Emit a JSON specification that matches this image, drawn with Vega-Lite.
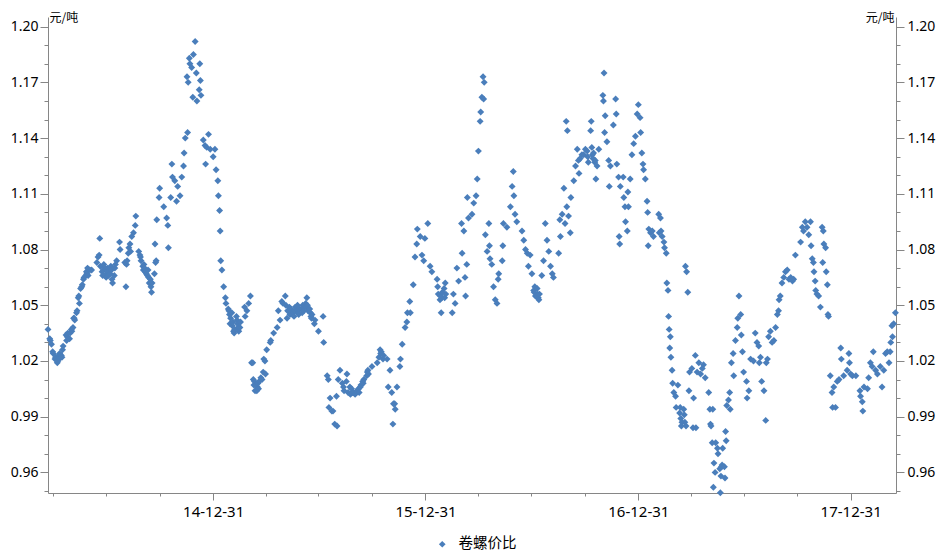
{
"$schema": "https://vega.github.io/schema/vega-lite/v6.json",
"width": 848, "height": 476,
"autosize": {"type": "none"},
"padding": {"left": 48, "top": 17, "right": 42, "bottom": 61},
"background": "white",
"config": {"view": {"stroke": null}, "font": "Noto Sans", "axis": {"grid": false, "domainColor": "#868686", "tickColor": "#868686", "labelColor": "#000000", "labelFont": "Noto Sans", "titleFont": "Noto Sans CJK SC"}},
"data": {"values": [
{"d":"2014-03-22","v":1.037},{"d":"2014-03-25","v":1.032},{"d":"2014-03-26","v":1.031},{"d":"2014-03-28","v":1.029},{"d":"2014-03-30","v":1.025},{"d":"2014-03-31","v":1.024},{"d":"2014-04-03","v":1.021},{"d":"2014-04-04","v":1.022},{"d":"2014-04-07","v":1.019},{"d":"2014-04-08","v":1.020},{"d":"2014-04-09","v":1.023},{"d":"2014-04-10","v":1.021},{"d":"2014-04-11","v":1.024},{"d":"2014-04-14","v":1.023},{"d":"2014-04-15","v":1.022},{"d":"2014-04-16","v":1.026},{"d":"2014-04-17","v":1.028},{"d":"2014-04-22","v":1.034},{"d":"2014-04-23","v":1.031},{"d":"2014-04-24","v":1.033},{"d":"2014-04-25","v":1.035},{"d":"2014-04-28","v":1.032},{"d":"2014-04-29","v":1.035},{"d":"2014-05-01","v":1.037},{"d":"2014-05-02","v":1.036},{"d":"2014-05-04","v":1.038},{"d":"2014-05-05","v":1.043},{"d":"2014-05-06","v":1.043},{"d":"2014-05-07","v":1.042},{"d":"2014-05-10","v":1.046},{"d":"2014-05-11","v":1.047},{"d":"2014-05-13","v":1.054},{"d":"2014-05-14","v":1.055},{"d":"2014-05-15","v":1.051},{"d":"2014-05-17","v":1.059},{"d":"2014-05-19","v":1.060},{"d":"2014-05-20","v":1.061},{"d":"2014-05-22","v":1.064},{"d":"2014-05-23","v":1.065},{"d":"2014-05-26","v":1.066},{"d":"2014-05-27","v":1.068},{"d":"2014-05-28","v":1.067},{"d":"2014-05-29","v":1.070},{"d":"2014-05-30","v":1.066},{"d":"2014-06-02","v":1.069},{"d":"2014-06-05","v":1.069},{"d":"2014-06-14","v":1.073},{"d":"2014-06-16","v":1.076},{"d":"2014-06-18","v":1.077},{"d":"2014-06-19","v":1.086},{"d":"2014-06-20","v":1.071},{"d":"2014-06-23","v":1.068},{"d":"2014-06-24","v":1.066},{"d":"2014-06-25","v":1.069},{"d":"2014-06-26","v":1.072},{"d":"2014-06-27","v":1.070},{"d":"2014-06-30","v":1.065},{"d":"2014-07-01","v":1.067},{"d":"2014-07-02","v":1.070},{"d":"2014-07-03","v":1.068},{"d":"2014-07-04","v":1.066},{"d":"2014-07-07","v":1.067},{"d":"2014-07-08","v":1.071},{"d":"2014-07-09","v":1.069},{"d":"2014-07-10","v":1.064},{"d":"2014-07-11","v":1.062},{"d":"2014-07-14","v":1.066},{"d":"2014-07-15","v":1.070},{"d":"2014-07-16","v":1.072},{"d":"2014-07-18","v":1.074},{"d":"2014-07-23","v":1.084},{"d":"2014-07-24","v":1.080},{"d":"2014-08-01","v":1.073},{"d":"2014-08-03","v":1.060},{"d":"2014-08-04","v":1.072},{"d":"2014-08-05","v":1.074},{"d":"2014-08-07","v":1.078},{"d":"2014-08-08","v":1.081},{"d":"2014-08-10","v":1.083},{"d":"2014-08-11","v":1.079},{"d":"2014-08-13","v":1.087},{"d":"2014-08-16","v":1.089},{"d":"2014-08-19","v":1.093},{"d":"2014-08-20","v":1.098},{"d":"2014-08-25","v":1.079},{"d":"2014-08-27","v":1.077},{"d":"2014-08-28","v":1.076},{"d":"2014-08-29","v":1.074},{"d":"2014-09-01","v":1.071},{"d":"2014-09-02","v":1.069},{"d":"2014-09-03","v":1.072},{"d":"2014-09-04","v":1.070},{"d":"2014-09-05","v":1.068},{"d":"2014-09-07","v":1.067},{"d":"2014-09-09","v":1.066},{"d":"2014-09-10","v":1.069},{"d":"2014-09-11","v":1.065},{"d":"2014-09-12","v":1.062},{"d":"2014-09-14","v":1.064},{"d":"2014-09-15","v":1.060},{"d":"2014-09-16","v":1.057},{"d":"2014-09-17","v":1.062},{"d":"2014-09-21","v":1.067},{"d":"2014-09-22","v":1.083},{"d":"2014-09-23","v":1.073},{"d":"2014-09-24","v":1.074},{"d":"2014-09-25","v":1.096},{"d":"2014-09-29","v":1.108},{"d":"2014-09-30","v":1.113},{"d":"2014-10-07","v":1.103},{"d":"2014-10-12","v":1.097},{"d":"2014-10-14","v":1.093},{"d":"2014-10-15","v":1.081},{"d":"2014-10-19","v":1.108},{"d":"2014-10-21","v":1.126},{"d":"2014-10-22","v":1.119},{"d":"2014-10-26","v":1.117},{"d":"2014-10-29","v":1.106},{"d":"2014-10-31","v":1.114},{"d":"2014-11-04","v":1.109},{"d":"2014-11-07","v":1.119},{"d":"2014-11-10","v":1.125},{"d":"2014-11-11","v":1.132},{"d":"2014-11-13","v":1.140},{"d":"2014-11-16","v":1.173},{"d":"2014-11-17","v":1.143},{"d":"2014-11-18","v":1.170},{"d":"2014-11-20","v":1.183},{"d":"2014-11-21","v":1.180},{"d":"2014-11-24","v":1.178},{"d":"2014-11-26","v":1.162},{"d":"2014-11-27","v":1.185},{"d":"2014-11-30","v":1.192},{"d":"2014-12-02","v":1.175},{"d":"2014-12-03","v":1.160},{"d":"2014-12-07","v":1.166},{"d":"2014-12-08","v":1.180},{"d":"2014-12-09","v":1.171},{"d":"2014-12-10","v":1.163},{"d":"2014-12-14","v":1.139},{"d":"2014-12-17","v":1.136},{"d":"2014-12-18","v":1.126},{"d":"2014-12-20","v":1.135},{"d":"2014-12-23","v":1.142},{"d":"2014-12-26","v":1.134},{"d":"2014-12-31","v":1.130},
{"d":"2015-01-03","v":1.134},{"d":"2015-01-05","v":1.123},{"d":"2015-01-08","v":1.117},{"d":"2015-01-09","v":1.109},{"d":"2015-01-11","v":1.101},{"d":"2015-01-12","v":1.090},{"d":"2015-01-13","v":1.074},{"d":"2015-01-15","v":1.069},{"d":"2015-01-18","v":1.060},{"d":"2015-01-21","v":1.054},{"d":"2015-01-22","v":1.051},{"d":"2015-01-26","v":1.048},{"d":"2015-01-27","v":1.047},{"d":"2015-01-28","v":1.045},{"d":"2015-01-29","v":1.040},{"d":"2015-01-30","v":1.043},{"d":"2015-02-01","v":1.046},{"d":"2015-02-02","v":1.039},{"d":"2015-02-03","v":1.041},{"d":"2015-02-04","v":1.036},{"d":"2015-02-05","v":1.035},{"d":"2015-02-06","v":1.037},{"d":"2015-02-09","v":1.044},{"d":"2015-02-10","v":1.042},{"d":"2015-02-11","v":1.040},{"d":"2015-02-12","v":1.038},{"d":"2015-02-13","v":1.036},{"d":"2015-02-15","v":1.038},{"d":"2015-02-16","v":1.041},{"d":"2015-02-23","v":1.049},{"d":"2015-02-24","v":1.044},{"d":"2015-02-27","v":1.047},{"d":"2015-03-02","v":1.051},{"d":"2015-03-05","v":1.055},{"d":"2015-03-07","v":1.019},{"d":"2015-03-09","v":1.019},{"d":"2015-03-10","v":1.010},{"d":"2015-03-11","v":1.007},{"d":"2015-03-12","v":1.009},{"d":"2015-03-13","v":1.004},{"d":"2015-03-16","v":1.004},{"d":"2015-03-17","v":1.006},{"d":"2015-03-18","v":1.008},{"d":"2015-03-19","v":1.005},{"d":"2015-03-20","v":1.009},{"d":"2015-03-23","v":1.011},{"d":"2015-03-25","v":1.010},{"d":"2015-03-27","v":1.014},{"d":"2015-03-28","v":1.021},{"d":"2015-03-30","v":1.020},{"d":"2015-03-31","v":1.013},{"d":"2015-04-02","v":1.026},{"d":"2015-04-08","v":1.030},{"d":"2015-04-09","v":1.031},{"d":"2015-04-14","v":1.035},{"d":"2015-04-20","v":1.038},{"d":"2015-04-22","v":1.047},{"d":"2015-04-25","v":1.042},{"d":"2015-04-28","v":1.052},{"d":"2015-04-30","v":1.051},{"d":"2015-05-04","v":1.055},{"d":"2015-05-05","v":1.050},{"d":"2015-05-07","v":1.043},{"d":"2015-05-08","v":1.047},{"d":"2015-05-11","v":1.049},{"d":"2015-05-12","v":1.045},{"d":"2015-05-13","v":1.048},{"d":"2015-05-15","v":1.046},{"d":"2015-05-18","v":1.046},{"d":"2015-05-19","v":1.044},{"d":"2015-05-20","v":1.047},{"d":"2015-05-21","v":1.049},{"d":"2015-05-24","v":1.048},{"d":"2015-05-25","v":1.050},{"d":"2015-05-26","v":1.046},{"d":"2015-05-27","v":1.045},{"d":"2015-05-28","v":1.048},{"d":"2015-06-01","v":1.048},{"d":"2015-06-02","v":1.046},{"d":"2015-06-03","v":1.050},{"d":"2015-06-04","v":1.049},{"d":"2015-06-05","v":1.047},{"d":"2015-06-08","v":1.051},{"d":"2015-06-09","v":1.049},{"d":"2015-06-10","v":1.054},{"d":"2015-06-11","v":1.050},{"d":"2015-06-12","v":1.047},{"d":"2015-06-15","v":1.048},{"d":"2015-06-16","v":1.046},{"d":"2015-06-17","v":1.044},{"d":"2015-06-18","v":1.043},{"d":"2015-06-19","v":1.045},{"d":"2015-06-23","v":1.040},{"d":"2015-06-24","v":1.042},{"d":"2015-06-30","v":1.036},{"d":"2015-07-08","v":1.044},{"d":"2015-07-09","v":1.030},{"d":"2015-07-15","v":1.012},{"d":"2015-07-17","v":1.010},{"d":"2015-07-18","v":0.995},{"d":"2015-07-20","v":1.000},{"d":"2015-07-23","v":0.993},{"d":"2015-07-25","v":0.993},{"d":"2015-07-28","v":0.986},{"d":"2015-07-31","v":1.001},{"d":"2015-08-01","v":0.985},{"d":"2015-08-03","v":1.010},{"d":"2015-08-06","v":1.015},{"d":"2015-08-10","v":1.008},{"d":"2015-08-12","v":1.006},{"d":"2015-08-13","v":1.004},{"d":"2015-08-17","v":1.009},{"d":"2015-08-18","v":1.013},{"d":"2015-08-20","v":1.003},{"d":"2015-08-23","v":1.006},{"d":"2015-08-24","v":1.002},{"d":"2015-08-26","v":1.005},{"d":"2015-08-27","v":1.003},{"d":"2015-08-29","v":1.003},{"d":"2015-09-01","v":1.002},{"d":"2015-09-04","v":1.004},{"d":"2015-09-07","v":1.005},{"d":"2015-09-08","v":1.003},{"d":"2015-09-10","v":1.006},{"d":"2015-09-11","v":1.007},{"d":"2015-09-14","v":1.009},{"d":"2015-09-15","v":1.008},{"d":"2015-09-16","v":1.010},{"d":"2015-09-21","v":1.012},{"d":"2015-09-22","v":1.014},{"d":"2015-09-23","v":1.015},{"d":"2015-09-24","v":1.013},{"d":"2015-09-30","v":1.017},{"d":"2015-10-09","v":1.019},{"d":"2015-10-12","v":1.022},{"d":"2015-10-14","v":1.026},{"d":"2015-10-15","v":1.024},{"d":"2015-10-16","v":1.025},{"d":"2015-10-19","v":1.021},{"d":"2015-10-20","v":1.023},{"d":"2015-10-26","v":1.021},{"d":"2015-10-28","v":1.006},{"d":"2015-10-31","v":1.015},{"d":"2015-11-03","v":1.003},{"d":"2015-11-05","v":0.986},{"d":"2015-11-06","v":0.997},{"d":"2015-11-08","v":0.997},{"d":"2015-11-09","v":0.994},{"d":"2015-11-12","v":1.006},{"d":"2015-11-17","v":1.017},{"d":"2015-11-18","v":1.021},{"d":"2015-11-21","v":1.029},{"d":"2015-11-26","v":1.038},{"d":"2015-11-29","v":1.041},{"d":"2015-11-30","v":1.046},{"d":"2015-12-04","v":1.052},{"d":"2015-12-05","v":1.046},{"d":"2015-12-10","v":1.061},{"d":"2015-12-13","v":1.076},{"d":"2015-12-16","v":1.083},{"d":"2015-12-17","v":1.091},{"d":"2015-12-22","v":1.087},{"d":"2015-12-25","v":1.077},{"d":"2015-12-28","v":1.074},{"d":"2015-12-30","v":1.086},
{"d":"2016-01-04","v":1.094},{"d":"2016-01-08","v":1.071},{"d":"2016-01-11","v":1.068},{"d":"2016-01-20","v":1.064},{"d":"2016-01-21","v":1.060},{"d":"2016-01-22","v":1.056},{"d":"2016-01-25","v":1.053},{"d":"2016-01-26","v":1.055},{"d":"2016-01-27","v":1.046},{"d":"2016-01-28","v":1.054},{"d":"2016-01-29","v":1.057},{"d":"2016-02-01","v":1.059},{"d":"2016-02-02","v":1.054},{"d":"2016-02-03","v":1.062},{"d":"2016-02-04","v":1.056},{"d":"2016-02-15","v":1.046},{"d":"2016-02-17","v":1.056},{"d":"2016-02-20","v":1.051},{"d":"2016-02-23","v":1.070},{"d":"2016-02-26","v":1.063},{"d":"2016-03-02","v":1.094},{"d":"2016-03-03","v":1.078},{"d":"2016-03-06","v":1.090},{"d":"2016-03-08","v":1.065},{"d":"2016-03-09","v":1.055},{"d":"2016-03-11","v":1.072},{"d":"2016-03-12","v":1.108},{"d":"2016-03-14","v":1.097},{"d":"2016-03-20","v":1.099},{"d":"2016-03-23","v":1.105},{"d":"2016-03-27","v":1.109},{"d":"2016-03-29","v":1.118},{"d":"2016-03-31","v":1.133},{"d":"2016-04-03","v":1.149},{"d":"2016-04-04","v":1.154},{"d":"2016-04-06","v":1.162},{"d":"2016-04-08","v":1.173},{"d":"2016-04-09","v":1.161},{"d":"2016-04-10","v":1.170},{"d":"2016-04-12","v":1.088},{"d":"2016-04-15","v":1.079},{"d":"2016-04-18","v":1.094},{"d":"2016-04-19","v":1.082},{"d":"2016-04-20","v":1.075},{"d":"2016-04-23","v":1.072},{"d":"2016-04-26","v":1.060},{"d":"2016-04-29","v":1.053},{"d":"2016-05-02","v":1.051},{"d":"2016-05-04","v":1.064},{"d":"2016-05-05","v":1.067},{"d":"2016-05-11","v":1.074},{"d":"2016-05-12","v":1.082},{"d":"2016-05-13","v":1.094},{"d":"2016-05-19","v":1.092},{"d":"2016-05-25","v":1.103},{"d":"2016-05-28","v":1.114},{"d":"2016-05-30","v":1.122},{"d":"2016-05-31","v":1.109},{"d":"2016-06-02","v":1.099},{"d":"2016-06-05","v":1.095},{"d":"2016-06-14","v":1.090},{"d":"2016-06-17","v":1.085},{"d":"2016-06-20","v":1.080},{"d":"2016-06-23","v":1.078},{"d":"2016-06-25","v":1.071},{"d":"2016-06-28","v":1.077},{"d":"2016-07-01","v":1.067},{"d":"2016-07-04","v":1.058},{"d":"2016-07-05","v":1.057},{"d":"2016-07-06","v":1.060},{"d":"2016-07-07","v":1.055},{"d":"2016-07-10","v":1.059},{"d":"2016-07-11","v":1.056},{"d":"2016-07-12","v":1.054},{"d":"2016-07-13","v":1.053},{"d":"2016-07-14","v":1.056},{"d":"2016-07-18","v":1.066},{"d":"2016-07-21","v":1.074},{"d":"2016-07-24","v":1.094},{"d":"2016-07-27","v":1.085},{"d":"2016-07-30","v":1.079},{"d":"2016-08-02","v":1.071},{"d":"2016-08-05","v":1.067},{"d":"2016-08-07","v":1.065},{"d":"2016-08-16","v":1.078},{"d":"2016-08-18","v":1.096},{"d":"2016-08-19","v":1.087},{"d":"2016-08-22","v":1.099},{"d":"2016-08-25","v":1.113},{"d":"2016-08-27","v":1.094},{"d":"2016-08-29","v":1.149},{"d":"2016-08-30","v":1.103},{"d":"2016-08-31","v":1.144},{"d":"2016-09-02","v":1.098},{"d":"2016-09-05","v":1.089},{"d":"2016-09-06","v":1.108},{"d":"2016-09-11","v":1.117},{"d":"2016-09-14","v":1.125},{"d":"2016-09-17","v":1.134},{"d":"2016-09-19","v":1.128},{"d":"2016-09-20","v":1.121},{"d":"2016-09-22","v":1.129},{"d":"2016-09-25","v":1.131},{"d":"2016-09-28","v":1.131},{"d":"2016-10-01","v":1.134},{"d":"2016-10-04","v":1.133},{"d":"2016-10-05","v":1.130},{"d":"2016-10-06","v":1.127},{"d":"2016-10-10","v":1.144},{"d":"2016-10-11","v":1.149},{"d":"2016-10-12","v":1.135},{"d":"2016-10-13","v":1.131},{"d":"2016-10-14","v":1.129},{"d":"2016-10-15","v":1.132},{"d":"2016-10-17","v":1.127},{"d":"2016-10-18","v":1.128},{"d":"2016-10-19","v":1.118},{"d":"2016-10-21","v":1.125},{"d":"2016-10-24","v":1.134},{"d":"2016-10-31","v":1.163},{"d":"2016-11-01","v":1.160},{"d":"2016-11-02","v":1.175},{"d":"2016-11-03","v":1.143},{"d":"2016-11-04","v":1.152},{"d":"2016-11-07","v":1.138},{"d":"2016-11-10","v":1.128},{"d":"2016-11-11","v":1.114},{"d":"2016-11-13","v":1.125},{"d":"2016-11-18","v":1.147},{"d":"2016-11-22","v":1.161},{"d":"2016-11-23","v":1.153},{"d":"2016-11-24","v":1.126},{"d":"2016-11-27","v":1.119},{"d":"2016-11-28","v":1.087},{"d":"2016-11-29","v":1.083},{"d":"2016-11-30","v":1.114},{"d":"2016-12-05","v":1.119},{"d":"2016-12-06","v":1.108},{"d":"2016-12-08","v":1.103},{"d":"2016-12-09","v":1.095},{"d":"2016-12-12","v":1.090},{"d":"2016-12-13","v":1.111},{"d":"2016-12-14","v":1.103},{"d":"2016-12-17","v":1.118},{"d":"2016-12-20","v":1.131},{"d":"2016-12-23","v":1.137},{"d":"2016-12-26","v":1.141},{"d":"2016-12-29","v":1.153},{"d":"2016-12-31","v":1.158},
{"d":"2017-01-03","v":1.151},{"d":"2017-01-04","v":1.143},{"d":"2017-01-06","v":1.132},{"d":"2017-01-08","v":1.126},{"d":"2017-01-09","v":1.123},{"d":"2017-01-12","v":1.118},{"d":"2017-01-15","v":1.106},{"d":"2017-01-16","v":1.100},{"d":"2017-01-17","v":1.082},{"d":"2017-01-18","v":1.091},{"d":"2017-01-21","v":1.089},{"d":"2017-01-24","v":1.090},{"d":"2017-01-26","v":1.087},{"d":"2017-02-04","v":1.099},{"d":"2017-02-05","v":1.089},{"d":"2017-02-07","v":1.097},{"d":"2017-02-08","v":1.090},{"d":"2017-02-10","v":1.087},{"d":"2017-02-13","v":1.084},{"d":"2017-02-14","v":1.081},{"d":"2017-02-17","v":1.078},{"d":"2017-02-18","v":1.062},{"d":"2017-02-20","v":1.058},{"d":"2017-02-21","v":1.044},{"d":"2017-02-22","v":1.037},{"d":"2017-02-23","v":1.027},{"d":"2017-02-24","v":1.033},{"d":"2017-02-25","v":1.022},{"d":"2017-02-27","v":1.015},{"d":"2017-02-28","v":1.008},{"d":"2017-03-02","v":1.003},{"d":"2017-03-05","v":1.001},{"d":"2017-03-06","v":0.995},{"d":"2017-03-09","v":1.007},{"d":"2017-03-12","v":0.992},{"d":"2017-03-13","v":0.995},{"d":"2017-03-14","v":0.989},{"d":"2017-03-15","v":0.985},{"d":"2017-03-16","v":0.987},{"d":"2017-03-19","v":0.994},{"d":"2017-03-20","v":0.991},{"d":"2017-03-21","v":0.987},{"d":"2017-03-22","v":1.071},{"d":"2017-03-23","v":0.985},{"d":"2017-03-24","v":1.068},{"d":"2017-03-26","v":1.057},{"d":"2017-03-28","v":1.004},{"d":"2017-03-29","v":1.014},{"d":"2017-04-02","v":1.016},{"d":"2017-04-04","v":0.984},{"d":"2017-04-05","v":1.000},{"d":"2017-04-08","v":1.023},{"d":"2017-04-09","v":0.984},{"d":"2017-04-11","v":1.014},{"d":"2017-04-14","v":1.019},{"d":"2017-04-17","v":1.013},{"d":"2017-04-20","v":1.016},{"d":"2017-04-22","v":1.018},{"d":"2017-04-25","v":1.011},{"d":"2017-05-01","v":1.003},{"d":"2017-05-03","v":0.994},{"d":"2017-05-04","v":0.986},{"d":"2017-05-05","v":0.985},{"d":"2017-05-07","v":0.976},{"d":"2017-05-08","v":0.994},{"d":"2017-05-09","v":0.952},{"d":"2017-05-10","v":0.965},{"d":"2017-05-12","v":0.960},{"d":"2017-05-13","v":0.976},{"d":"2017-05-16","v":0.973},{"d":"2017-05-17","v":0.970},{"d":"2017-05-20","v":0.962},{"d":"2017-05-21","v":0.949},{"d":"2017-05-22","v":0.958},{"d":"2017-05-23","v":0.963},{"d":"2017-05-24","v":0.964},{"d":"2017-05-25","v":0.973},{"d":"2017-05-28","v":0.963},{"d":"2017-05-29","v":0.957},{"d":"2017-05-30","v":0.982},{"d":"2017-05-31","v":0.977},{"d":"2017-06-01","v":0.996},{"d":"2017-06-04","v":0.999},{"d":"2017-06-06","v":1.003},{"d":"2017-06-07","v":0.994},{"d":"2017-06-09","v":1.019},{"d":"2017-06-12","v":1.024},{"d":"2017-06-13","v":1.012},{"d":"2017-06-16","v":1.031},{"d":"2017-06-19","v":1.038},{"d":"2017-06-20","v":1.043},{"d":"2017-06-22","v":1.055},{"d":"2017-06-25","v":1.045},{"d":"2017-06-26","v":1.034},{"d":"2017-06-28","v":1.025},{"d":"2017-06-30","v":1.014},{"d":"2017-07-05","v":1.009},{"d":"2017-07-06","v":1.000},{"d":"2017-07-09","v":1.004},{"d":"2017-07-12","v":1.021},{"d":"2017-07-17","v":1.020},{"d":"2017-07-20","v":1.035},{"d":"2017-07-23","v":1.030},{"d":"2017-07-26","v":1.028},{"d":"2017-07-27","v":1.019},{"d":"2017-07-29","v":1.022},{"d":"2017-07-31","v":1.009},{"d":"2017-08-04","v":1.004},{"d":"2017-08-07","v":0.988},{"d":"2017-08-08","v":1.019},{"d":"2017-08-10","v":1.021},{"d":"2017-08-12","v":1.033},{"d":"2017-08-15","v":1.036},{"d":"2017-08-18","v":1.030},{"d":"2017-08-21","v":1.031},{"d":"2017-08-24","v":1.038},{"d":"2017-08-27","v":1.045},{"d":"2017-08-29","v":1.047},{"d":"2017-08-30","v":1.053},{"d":"2017-09-01","v":1.055},{"d":"2017-09-04","v":1.062},{"d":"2017-09-07","v":1.065},{"d":"2017-09-10","v":1.068},{"d":"2017-09-13","v":1.069},{"d":"2017-09-16","v":1.064},{"d":"2017-09-19","v":1.065},{"d":"2017-09-22","v":1.063},{"d":"2017-09-24","v":1.064},{"d":"2017-09-27","v":1.077},{"d":"2017-10-06","v":1.084},{"d":"2017-10-09","v":1.092},{"d":"2017-10-11","v":1.090},{"d":"2017-10-14","v":1.095},{"d":"2017-10-17","v":1.092},{"d":"2017-10-20","v":1.088},{"d":"2017-10-23","v":1.095},{"d":"2017-10-24","v":1.082},{"d":"2017-10-26","v":1.075},{"d":"2017-10-28","v":1.073},{"d":"2017-10-29","v":1.068},{"d":"2017-10-31","v":1.063},{"d":"2017-11-01","v":1.058},{"d":"2017-11-03","v":1.056},{"d":"2017-11-06","v":1.055},{"d":"2017-11-09","v":1.049},{"d":"2017-11-12","v":1.092},{"d":"2017-11-13","v":1.073},{"d":"2017-11-14","v":1.090},{"d":"2017-11-15","v":1.083},{"d":"2017-11-18","v":1.081},{"d":"2017-11-19","v":1.068},{"d":"2017-11-21","v":1.061},{"d":"2017-11-22","v":1.045},{"d":"2017-11-23","v":1.044},{"d":"2017-11-26","v":1.012},{"d":"2017-11-29","v":1.003},{"d":"2017-11-30","v":0.995},{"d":"2017-12-02","v":1.006},{"d":"2017-12-05","v":0.995},{"d":"2017-12-08","v":1.009},{"d":"2017-12-11","v":1.010},{"d":"2017-12-14","v":1.027},{"d":"2017-12-15","v":1.021},{"d":"2017-12-19","v":1.012},{"d":"2017-12-25","v":1.015},{"d":"2017-12-28","v":1.024},{"d":"2017-12-29","v":1.019},{"d":"2017-12-31","v":1.013},
{"d":"2018-01-03","v":1.012},{"d":"2018-01-09","v":1.012},{"d":"2018-01-16","v":1.004},{"d":"2018-01-17","v":1.001},{"d":"2018-01-20","v":0.998},{"d":"2018-01-21","v":0.993},{"d":"2018-01-23","v":1.006},{"d":"2018-01-29","v":1.005},{"d":"2018-01-31","v":1.011},{"d":"2018-02-03","v":1.019},{"d":"2018-02-06","v":1.017},{"d":"2018-02-08","v":1.025},{"d":"2018-02-12","v":1.015},{"d":"2018-02-15","v":1.013},{"d":"2018-02-20","v":1.017},{"d":"2018-02-23","v":1.006},{"d":"2018-02-26","v":1.015},{"d":"2018-03-01","v":1.024},{"d":"2018-03-04","v":1.025},{"d":"2018-03-07","v":1.019},{"d":"2018-03-09","v":1.025},{"d":"2018-03-10","v":1.030},{"d":"2018-03-12","v":1.039},{"d":"2018-03-13","v":1.033},{"d":"2018-03-15","v":1.040},{"d":"2018-03-18","v":1.046}
]},
"layer": [
{"mark": {"type": "point", "shape": "diamond", "filled": true, "size": 48, "opacity": 1},
 "encoding": {
  "x": {"field": "d", "type": "temporal",
    "scale": {"domain": [{"year": 2014, "month": 3, "date": 22}, {"year": 2018, "month": 3, "date": 19}]},
    "axis": {"orient": "bottom", "title": null, "values": [{"year": 2014, "month": 12, "date": 31}, {"year": 2015, "month": 12, "date": 31}, {"year": 2016, "month": 12, "date": 31}, {"year": 2017, "month": 12, "date": 31}], "format": "%y-%m-%d", "tickSize": 7, "labelFontSize": 15, "labelPadding": 4, "labelFlush": false, "labelOverlap": false}},
  "y": {"field": "v", "type": "quantitative",
    "scale": {"domain": [0.9489, 1.2052], "nice": false, "zero": false},
    "axis": {"orient": "left", "values": [0.96, 0.99, 1.02, 1.05, 1.08, 1.11, 1.14, 1.17, 1.2], "format": ".2f", "tickSize": 8, "labelPadding": 2, "labelFontSize": 14,
      "title": "元/吨", "titleAngle": 0, "titleAlign": "left", "titleBaseline": "middle", "titleX": 1, "titleY": 0, "titleFontSize": 12, "titleFontWeight": "normal", "titleColor": "#000000"}},
  "color": {"datum": "卷螺价比", "type": "nominal", "scale": {"range": ["#4a7ebb"]},
    "legend": {"title": null, "orient": "none", "legendX": 387, "legendY": 520, "symbolType": "diamond", "symbolSize": 45, "labelOffset": 9, "labelFontSize": 14.5, "labelFont": "Noto Sans CJK SC", "labelColor": "#000000", "direction": "horizontal"}}
 }},
{"data": {"values": [{"d": "2016-01-01", "v": 1.0}]},
 "mark": {"type": "point", "opacity": 0},
 "encoding": {
  "x": {"field": "d", "type": "temporal",
    "scale": {"domain": [{"year": 2014, "month": 3, "date": 22}, {"year": 2018, "month": 3, "date": 19}]},
    "axis": {"orient": "bottom", "title": null, "labels": false, "domain": false, "tickSize": 3, "values": [{"year": 2014, "month": 3, "date": 31}, {"year": 2014, "month": 6, "date": 30}, {"year": 2014, "month": 9, "date": 30}, {"year": 2015, "month": 3, "date": 31}, {"year": 2015, "month": 6, "date": 30}, {"year": 2015, "month": 9, "date": 30}, {"year": 2016, "month": 3, "date": 31}, {"year": 2016, "month": 6, "date": 30}, {"year": 2016, "month": 9, "date": 30}, {"year": 2017, "month": 3, "date": 31}, {"year": 2017, "month": 6, "date": 30}, {"year": 2017, "month": 9, "date": 30}]}},
  "y": {"field": "v", "type": "quantitative",
    "scale": {"domain": [0.9489, 1.2052], "nice": false, "zero": false},
    "axis": {"orient": "right", "values": [0.96, 0.99, 1.02, 1.05, 1.08, 1.11, 1.14, 1.17, 1.2], "format": ".2f", "tickSize": 8, "labelPadding": 3, "labelFontSize": 14,
      "title": "元/吨", "titleAngle": 0, "titleAlign": "right", "titleBaseline": "middle", "titleX": -2, "titleY": 0, "titleFontSize": 12, "titleFontWeight": "normal", "titleColor": "#000000"}}
 }},
{"data": {"values": [{"d": "2016-01-01", "v": 1.0}]},
 "mark": {"type": "point", "opacity": 0},
 "encoding": {
  "x": {"field": "d", "type": "temporal", "scale": {"domain": [{"year": 2014, "month": 3, "date": 22}, {"year": 2018, "month": 3, "date": 19}]}, "axis": null},
  "y": {"field": "v", "type": "quantitative", "scale": {"domain": [0.9489, 1.2052], "nice": false, "zero": false},
    "axis": {"orient": "left", "title": null, "labels": false, "domain": false, "tickSize": 4, "values": [0.95, 0.97, 0.98, 1.0, 1.01, 1.03, 1.04, 1.06, 1.07, 1.09, 1.1, 1.12, 1.13, 1.15, 1.16, 1.18, 1.19]}}
 }},
{"data": {"values": [{"d": "2016-01-01", "v": 1.0}]},
 "mark": {"type": "point", "opacity": 0},
 "encoding": {
  "x": {"field": "d", "type": "temporal", "scale": {"domain": [{"year": 2014, "month": 3, "date": 22}, {"year": 2018, "month": 3, "date": 19}]}, "axis": null},
  "y": {"field": "v", "type": "quantitative", "scale": {"domain": [0.9489, 1.2052], "nice": false, "zero": false},
    "axis": {"orient": "right", "title": null, "labels": false, "domain": false, "tickSize": 4, "values": [0.95, 0.97, 0.98, 1.0, 1.01, 1.03, 1.04, 1.06, 1.07, 1.09, 1.1, 1.12, 1.13, 1.15, 1.16, 1.18, 1.19]}}
 }}
],
"resolve": {"axis": {"x": "independent", "y": "independent"}}
}
